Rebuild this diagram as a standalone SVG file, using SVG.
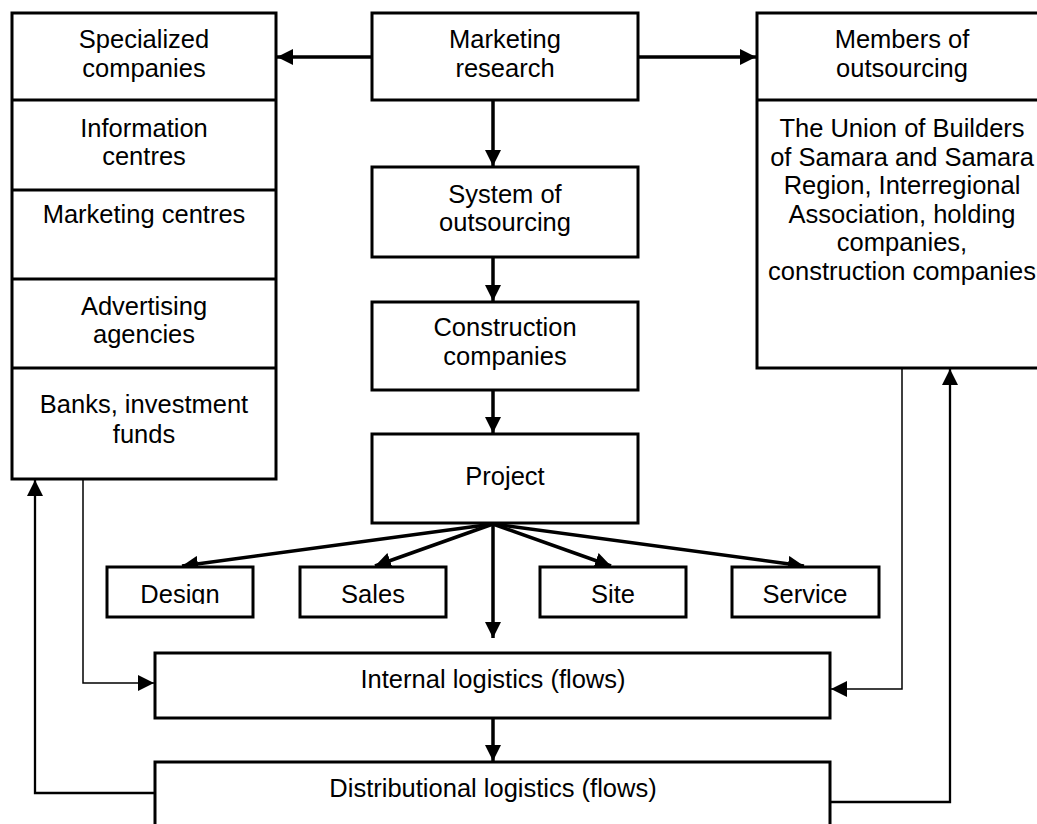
<svg xmlns="http://www.w3.org/2000/svg" width="1037" height="824" viewBox="0 0 1037 824">
  <style>
    .box { fill: #fff; stroke: #000; stroke-width: 3; }
    .div { stroke: #000; stroke-width: 3; }
    .t { font-family: "Liberation Sans", Arial, sans-serif; font-size: 25.5px; fill: #000; text-anchor: middle; }
    .main { fill: none; stroke: #000; stroke-width: 3.5; }
    .thin { fill: none; stroke: #000; stroke-width: 1.5; }
    .mid { fill: none; stroke: #000; stroke-width: 2.3; }
  </style>
  <defs>
    <marker id="ah" markerUnits="userSpaceOnUse" markerWidth="16" markerHeight="16" refX="16" refY="8" orient="auto">
      <path d="M0,0 L16,8 L0,16 z" fill="#000"/>
    </marker>
    <clipPath id="smallclip">
      <rect x="0" y="560" width="1037" height="44"/>
    </clipPath>
  </defs>
  <rect width="1037" height="824" fill="#fff"/>

  <g id="connectors">
    <line class="main" x1="372" y1="57" x2="277" y2="57" marker-end="url(#ah)"/>
    <line class="main" x1="638" y1="57" x2="756" y2="57" marker-end="url(#ah)"/>
    <line class="main" x1="493" y1="100" x2="493" y2="166" marker-end="url(#ah)"/>
    <line class="main" x1="493" y1="257" x2="493" y2="301" marker-end="url(#ah)"/>
    <line class="main" x1="493" y1="390" x2="493" y2="433" marker-end="url(#ah)"/>
    <line class="main" x1="493" y1="524" x2="182" y2="566" marker-end="url(#ah)"/>
    <line class="main" x1="493" y1="524" x2="375" y2="566" marker-end="url(#ah)"/>
    <line class="main" x1="493" y1="524" x2="493" y2="638" marker-end="url(#ah)"/>
    <line class="main" x1="493" y1="524" x2="611" y2="566" marker-end="url(#ah)"/>
    <line class="main" x1="493" y1="524" x2="804" y2="566" marker-end="url(#ah)"/>
    <line class="main" x1="493" y1="718" x2="493" y2="761" marker-end="url(#ah)"/>
    <polyline class="thin" points="83,479 83,683 154,683" marker-end="url(#ah)"/>
    <polyline class="mid" points="155,793 35,793 35,480" marker-end="url(#ah)"/>
    <polyline class="thin" points="902,368 902,689 831,689" marker-end="url(#ah)"/>
    <polyline class="mid" points="830,802 950,802 950,369" marker-end="url(#ah)"/>
  </g>

  <g id="specialized-companies">
    <rect class="box" x="12" y="13" width="264" height="466"/>
    <line class="div" x1="12" y1="100" x2="276" y2="100"/>
    <line class="div" x1="12" y1="190" x2="276" y2="190"/>
    <line class="div" x1="12" y1="279" x2="276" y2="279"/>
    <line class="div" x1="12" y1="368" x2="276" y2="368"/>
    <text class="t" x="144" y="48">Specialized</text>
    <text class="t" x="144" y="77">companies</text>
    <text class="t" x="144" y="137">Information</text>
    <text class="t" x="144" y="165">centres</text>
    <text class="t" x="144" y="223">Marketing centres</text>
    <text class="t" x="144" y="315">Advertising</text>
    <text class="t" x="144" y="343">agencies</text>
    <text class="t" x="144" y="413">Banks, investment</text>
    <text class="t" x="144" y="443">funds</text>
  </g>

  <g id="marketing-research">
    <rect class="box" x="372" y="13" width="266" height="87"/>
    <text class="t" x="505" y="48">Marketing</text>
    <text class="t" x="505" y="77">research</text>
  </g>

  <g id="members-of-outsourcing">
    <rect class="box" x="757" y="13" width="292" height="355"/>
    <line class="div" x1="757" y1="100" x2="1049" y2="100"/>
    <text class="t" x="902" y="48">Members of</text>
    <text class="t" x="902" y="77">outsourcing</text>
    <text class="t" x="902" y="137">The Union of Builders</text>
    <text class="t" x="902" y="166">of Samara and Samara</text>
    <text class="t" x="902" y="194">Region, Interregional</text>
    <text class="t" x="902" y="223">Association, holding</text>
    <text class="t" x="902" y="251">companies,</text>
    <text class="t" x="902" y="280">construction companies</text>
  </g>

  <g id="system-of-outsourcing">
    <rect class="box" x="372" y="167" width="266" height="90"/>
    <text class="t" x="505" y="203">System of</text>
    <text class="t" x="505" y="231">outsourcing</text>
  </g>

  <g id="construction-companies">
    <rect class="box" x="372" y="302" width="266" height="88"/>
    <text class="t" x="505" y="336">Construction</text>
    <text class="t" x="505" y="365">companies</text>
  </g>

  <g id="project">
    <rect class="box" x="372" y="434" width="266" height="89"/>
    <text class="t" x="505" y="485">Project</text>
  </g>

  <g id="design">
    <rect class="box" x="107" y="567" width="146" height="50"/>
    <text class="t" x="180" y="603" clip-path="url(#smallclip)">Design</text>
  </g>
  <g id="sales">
    <rect class="box" x="300" y="567" width="146" height="50"/>
    <text class="t" x="373" y="603">Sales</text>
  </g>
  <g id="site">
    <rect class="box" x="540" y="567" width="146" height="50"/>
    <text class="t" x="613" y="603">Site</text>
  </g>
  <g id="service">
    <rect class="box" x="732" y="567" width="147" height="50"/>
    <text class="t" x="805" y="603">Service</text>
  </g>

  <g id="internal-logistics">
    <rect class="box" x="155" y="653" width="675" height="65"/>
    <text class="t" x="493" y="688">Internal logistics (flows)</text>
  </g>

  <g id="distributional-logistics">
    <rect class="box" x="155" y="762" width="675" height="80"/>
    <text class="t" x="493" y="797">Distributional logistics (flows)</text>
  </g>
</svg>
